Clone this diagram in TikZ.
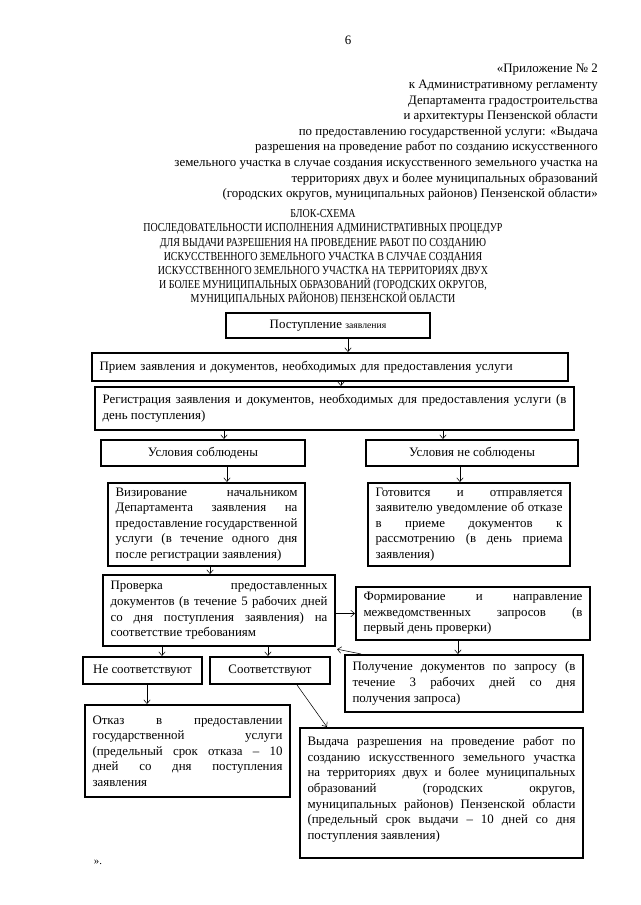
\documentclass[tikz,border=0pt]{standalone}
\usepackage{fontspec}
\setmainfont{Liberation Serif}
\newfontfamily\ttlfont{Liberation Serif}[FakeStretch=0.82]
\usetikzlibrary{arrows.meta}

\hyphenpenalty=10000
\exhyphenpenalty=10000
\tolerance=9999

\tikzset{
    pbox/.style={
        rectangle, draw=black, line width=1.9pt, fill=white,
        inner xsep=4pt, inner ysep=2pt, align=center,
        font=\fontsize{12}{14.5}\selectfont
    },
    tbox/.style={
        pbox, align=justify, inner xsep=7pt
    },
    parr/.style={-{Straight Barb[length=3.5pt, width=6pt]}, line width=0.5pt, black},
}

\begin{document}
\begin{tikzpicture}[x=0.9297pt, y=-0.9297pt]

    \useasboundingbox [fill=white] (0,0) rectangle (640,905);

    % ── шапка ───────────────────────────────────────────
    \node [font=\fontsize{12}{14.5}\selectfont] (pnum) at (348,40) {6};

    \node [anchor=east, align=right, inner sep=0pt, font=\fontsize{12}{14.5}\selectfont]
        (hdr) at (598,132.5) {«Приложение № 2\\
        к Административному регламенту\\
        Департамента градостроительства\\
        и архитектуры Пензенской области\\
        по предоставлению государственной услуги: «Выдача\\
        разрешения на проведение работ по созданию искусственного\\
        земельного участка в случае создания искусственного земельного участка на\\
        территориях двух и более муниципальных образований\\
        (городских округов, муниципальных районов) Пензенской области»};

    \node [align=center, inner sep=0pt, font=\ttlfont\fontsize{11.3}{13.2}\selectfont]
        (ttl) at (323,257.5) {БЛОК-СХЕМА\\
        ПОСЛЕДОВАТЕЛЬНОСТИ ИСПОЛНЕНИЯ АДМИНИСТРАТИВНЫХ ПРОЦЕДУР\\
        ДЛЯ ВЫДАЧИ РАЗРЕШЕНИЯ НА ПРОВЕДЕНИЕ РАБОТ ПО СОЗДАНИЮ\\
        ИСКУССТВЕННОГО ЗЕМЕЛЬНОГО УЧАСТКА В СЛУЧАЕ СОЗДАНИЯ\\
        ИСКУССТВЕННОГО ЗЕМЕЛЬНОГО УЧАСТКА НА ТЕРРИТОРИЯХ ДВУХ\\
        И БОЛЕЕ МУНИЦИПАЛЬНЫХ ОБРАЗОВАНИЙ (ГОРОДСКИХ ОКРУГОВ,\\
        МУНИЦИПАЛЬНЫХ РАЙОНОВ) ПЕНЗЕНСКОЙ ОБЛАСТИ};

    % ── блоки ───────────────────────────────────────────
    \node [pbox, minimum width=189.7pt, minimum height=23.2pt]
        (b1) at (328,325.5) {Поступление {\fontsize{9}{10}\selectfont заявления}};

    \node [pbox, align=left, text width=428.5pt, inner xsep=7pt, minimum height=26pt]
        (b2) at (330,367) {Прием заявления и документов, необходимых для предоставления услуги};

    \node [tbox, text width=431.3pt, minimum height=40pt]
        (b3) at (334.5,408.5) {Регистрация заявления и документов, необходимых для предоставления услуги (в\linebreak
        день поступления)};

    \node [pbox, minimum width=189.7pt, minimum height=24.2pt]
        (b4) at (203,453) {Условия соблюдены};

    \node [pbox, minimum width=197.1pt, minimum height=24.2pt]
        (b5) at (472,453) {Условия не соблюдены};

    \node [tbox, text width=169.1pt, minimum height=77.2pt]
        (b6) at (206.5,524.5) {Визирование начальником\linebreak
        Департамента заявления на\linebreak
        предоставление государственной\linebreak
        услуги (в течение одного дня\linebreak
        после регистрации заявления)};

    \node [tbox, text width=173.8pt, minimum height=77.2pt]
        (b7) at (469,524.5) {Готовится и отправляется\linebreak
        заявителю уведомление об отказе\linebreak
        в приеме документов к\linebreak
        рассмотрению (в день приема\linebreak
        заявления)};

    \node [tbox, text width=201.7pt, minimum height=66pt]
        (b8) at (219,610.5) {Проверка предоставленных\linebreak
        документов (в течение 5 рабочих дней\linebreak
        со дня поступления заявления) на\linebreak
        соответствие требованиям};

    \node [tbox, text width=203.5pt, minimum height=49.3pt]
        (b9) at (473,613.5) {Формирование и направление\linebreak
        межведомственных запросов (в\linebreak
        первый день проверки)};

    \node [pbox, minimum width=110.6pt, minimum height=25.1pt]
        (b10) at (142.5,670.5) {Не соответствуют};

    \node [pbox, minimum width=111.6pt, minimum height=25.1pt]
        (b11) at (270,670.5) {Соответствуют};

    \node [tbox, text width=207.3pt, minimum height=53pt]
        (b12) at (464,683.5) {Получение документов по запросу (в\linebreak
        течение 3 рабочих дней со дня\linebreak
        получения запроса)};

    \node [tbox, text width=176.6pt, minimum height=85.5pt]
        (b13) at (187.5,751) {Отказ в предоставлении\linebreak
        государственной услуги\linebreak
        (предельный срок отказа – 10\linebreak
        дней со дня поступления\linebreak
        заявления};

    \node [tbox, text width=249.1pt, minimum height=120.9pt]
        (b14) at (441.5,793) {Выдача разрешения на проведение работ по\linebreak
        созданию искусственного земельного участка\linebreak
        на территориях двух и более муниципальных\linebreak
        образований (городских округов,\linebreak
        муниципальных районов) Пензенской области\linebreak
        (предельный срок выдачи – 10 дней со дня\linebreak
        поступления заявления)\par\vspace{-5pt}\mbox{}};

    \node (qend) at (98,862) {».};

    % ── стрелки ─────────────────────────────────────────
    \draw [parr] ([xshift=18.6pt]b1.south) -- ([xshift=18.6pt]b1.south |- b2.north);
    \draw [parr] ([xshift=10.2pt]b2.south) -- ([xshift=10.2pt]b2.south |- b3.north);
    \draw [parr] ([xshift=19.5pt]b4.north |- b3.south) -- ([xshift=19.5pt]b4.north);
    \draw [parr] ([xshift=-27pt]b5.north |- b3.south) -- ([xshift=-27pt]b5.north);
    \draw [parr] ([xshift=22.3pt]b4.south) -- ([xshift=22.3pt]b4.south |- b6.north);
    \draw [parr] ([xshift=-11.2pt]b5.south) -- ([xshift=-11.2pt]b5.south |- b7.north);
    \draw [parr] ([xshift=3.3pt]b6.south) -- ([xshift=3.3pt]b6.south |- b8.north);
    \draw [parr] (b8.east |- b9.west) -- (b9.west);
    \draw [parr] ([xshift=-14pt]b9.south) -- ([xshift=-14pt]b9.south |- b12.north);
    \draw [parr] ([xshift=16pt]b12.north west) -- ([xshift=1pt,yshift=-2pt]b8.south east);
    \draw [parr] ([xshift=18.1pt]b10.north |- b8.south) -- ([xshift=18.1pt]b10.north);
    \draw [parr] ([xshift=-1.9pt]b11.north |- b8.south) -- ([xshift=-1.9pt]b11.north);
    \draw [parr] ([xshift=4.2pt]b10.south) -- ([xshift=4.2pt]b10.south |- b13.north);
    \draw [parr] ([xshift=-31.6pt]b11.south east) -- ([xshift=26pt]b14.north west);

\end{tikzpicture}
\end{document}
